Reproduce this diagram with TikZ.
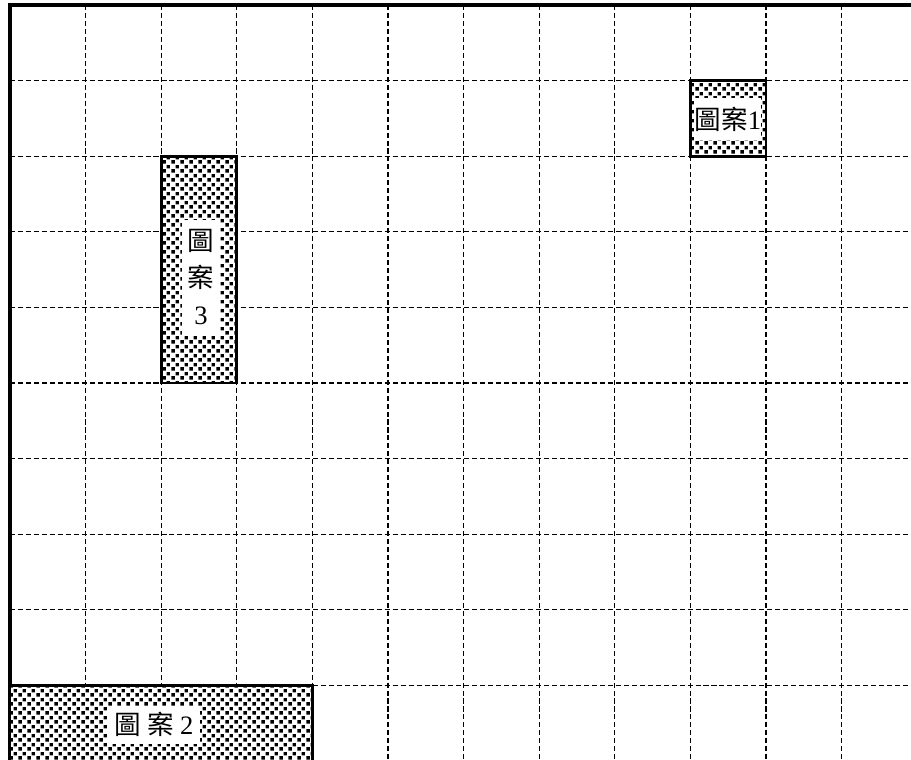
\documentclass[tikz,border=0pt]{standalone}
\usepackage{fontspec}
\setmainfont{Liberation Serif}
\newfontfamily\cjk{Noto Sans CJK TC}
\usetikzlibrary{patterns.meta}
\tikzdeclarepattern{
  name=mydots,
  type=uncolored,
  bounding box={(0,0) and (3.4pt,3.4pt)},
  tile size={(3.4pt,3.4pt)},
  code={
    \fill (0.2pt,0.2pt) rectangle (1.6pt,1.6pt);
    \fill (1.9pt,1.9pt) rectangle (3.3pt,3.3pt);
  }
}
\tikzset{
  gridline/.style={line width=0.45pt, dash pattern=on 1.9pt off 1.1pt},
  border/.style={line width=1.2pt},
  patbox/.style={draw, line width=1.1pt, preaction={fill=white}, pattern=mydots, pattern color=black, inner sep=0pt, rectangle},
  lab/.style={fill=white, inner sep=0pt, font=\fontsize{10}{14}\selectfont, align=center}
}
\begin{document}
\begin{tikzpicture}[x=1cm,y=1cm]
\useasboundingbox (-0.1323,0.0661) rectangle (11.918,-9.974);
\clip (-0.1323,0.0661) rectangle (11.918,-9.974);
% grid
\foreach \i in {1,...,11} \draw[gridline] (\i,0) -- (\i,-10.2);
\foreach \j in {1,...,9} \draw[gridline] (0,-\j) -- (12.2,-\j);
% border
\coordinate (tl) at (0,0);
\coordinate (tr) at (12.2,0);
\coordinate (bl) at (0,-10.2);
\draw[border] (tr) -- (tl) -- (bl);
% pattern 1
\node[patbox, minimum width=1cm, minimum height=1cm] (p1) at (9.5,-1.5) {};
\node[lab, minimum width=0.79cm, minimum height=0.56cm] (l1) at (9.497,-1.508) {{\cjk 圖案}1};
% pattern 3
\node[patbox, minimum width=1cm, minimum height=3cm] (p3) at (2.5,-3.5) {};
\node[lab, minimum width=0.50cm, minimum height=1.52cm] (l3) at (2.527,-3.60) {{\cjk 圖}\\{\cjk 案}\\3};
% pattern 2
\node[patbox, minimum width=4cm, minimum height=1.6cm] (p2) at (2,-9.8) {};
\node[lab, minimum width=1.22cm, minimum height=0.50cm] (l2) at (1.905,-9.52) {{\cjk 圖 案} 2};
\end{tikzpicture}
\end{document}
